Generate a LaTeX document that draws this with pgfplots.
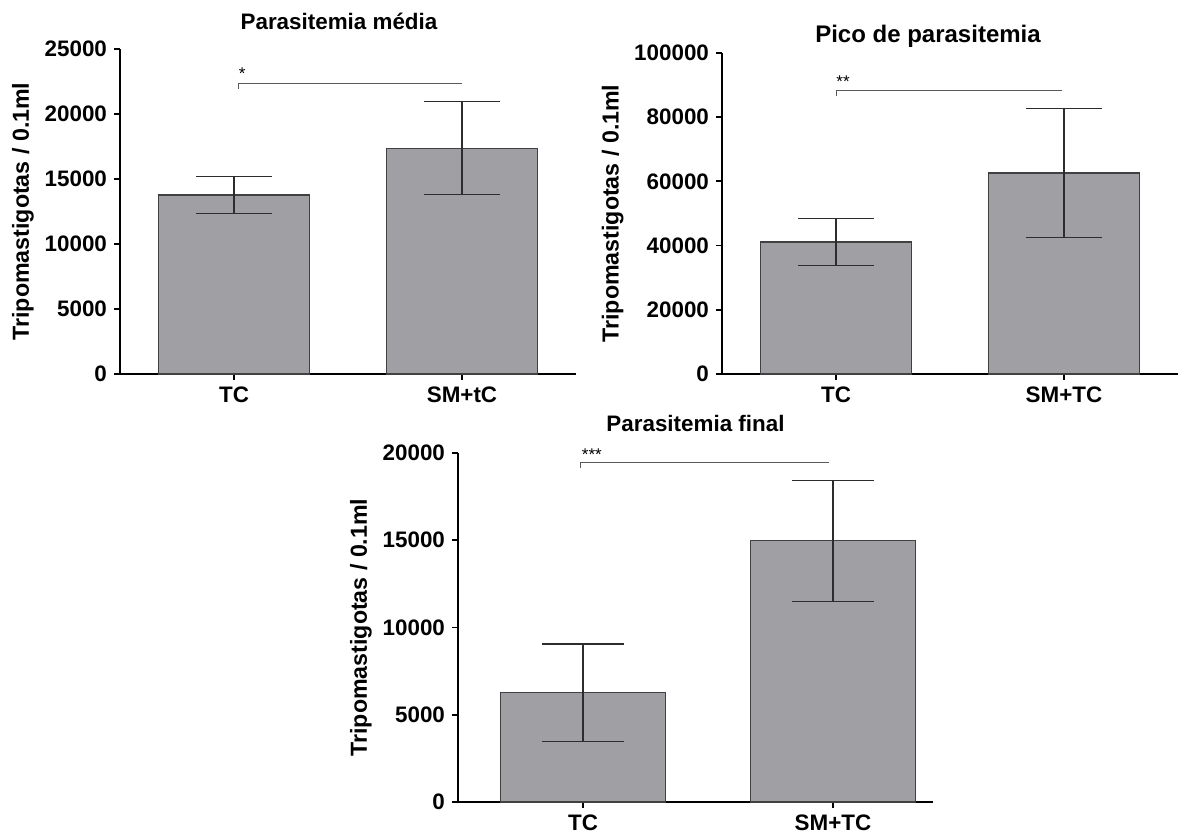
\documentclass[border=0pt]{standalone}
\usepackage{fontspec}
\setmainfont{Liberation Sans}
\usepackage{pgfplots}
\pgfplotsset{compat=1.18}
\definecolor{barfill}{RGB}{160,159,164}
\definecolor{baredge}{RGB}{65,65,65}
\definecolor{errc}{RGB}{45,45,45}
\definecolor{brk}{RGB}{90,90,90}
\newcommand{\lblfont}{\fontsize{11.2}{13}\selectfont\bfseries}
\pgfplotsset{
  panel/.style={
    scale only axis,
    anchor=south west,
    axis lines=left,
    axis line style={-, line width=1pt, black},
    xtick={0,1},
    tick align=outside,
    major tick length=3pt,
    tick style={line width=0.9pt, black},
    xmin=-0.5, xmax=1.5, ymin=0,
    scaled y ticks=false,
    yticklabel={\pgfmathprintnumber[fixed,precision=0,1000 sep={},assume math mode=true]{\tick}},
    ticklabel style={font=\lblfont},
    ylabel={Tripomastigotas / 0.1ml},
    ylabel style={font=\fontsize{11.6}{13}\selectfont\bfseries, yshift=-1.5pt},
    title style={font=\lblfont, at={(0.5,1)}, anchor=base},
    clip=false,
  },
  barplot/.style={
    ybar, bar width=0.66, fill=barfill, draw=baredge, line width=0.6pt,
    error bars/.cd, y dir=both, y explicit,
    error bar style={line width=0.6pt, errc},
    error mark options={line width=0.6pt, errc, mark size=#1, rotate=90},
  },
}
\begin{document}
\begin{tikzpicture}
\useasboundingbox (0,0) rectangle (589.5pt,417.5pt);
% Panel 1
\begin{axis}[panel, at={(60pt,230.5pt)}, width=228pt, height=162.5pt,
  ymax=25000, ytick={0,5000,10000,15000,20000,25000},
  xticklabels={TC, SM+tC},
  title={Parasitemia média}, title style={yshift=3.9pt, xshift=-4.5pt}]
\addplot[barplot=18.8pt] coordinates {(0,13770) +- (0,1435) (1,17375) +- (0,3580)};
\draw[line width=0.5pt, brk] (axis cs:0.018,21930) -- (axis cs:0.018,22365) -- (axis cs:1.0,22365);
\node[font=\fontsize{8.5}{9}\selectfont, anchor=base west, inner sep=0pt] at (axis cs:0.02,22615) {*};
\end{axis}
% Panel 2
\begin{axis}[panel, at={(361pt,230.5pt)}, width=228pt, height=160.5pt,
  ymax=100000, ytick={0,20000,40000,60000,80000,100000},
  xticklabels={TC, SM+TC},
  title={Pico de parasitemia}, title style={font=\fontsize{12}{14}\selectfont\bfseries, yshift=-1pt, xshift=-11pt}]
\addplot[barplot=18.8pt] coordinates {(0,41100) +- (0,7330) (1,62600) +- (0,20200)};
\draw[line width=0.5pt, brk] (axis cs:0,86700) -- (axis cs:0,88380) -- (axis cs:0.993,88380);
\node[font=\fontsize{8.5}{9}\selectfont, anchor=base west, inner sep=0pt] at (axis cs:0.0,89100) {**};
\end{axis}
% Panel 3
\begin{axis}[panel, at={(229pt,16.5pt)}, width=237.5pt, height=174.5pt,
  xmax=1.4,
  ymax=20000, ytick={0,5000,10000,15000,20000},
  xticklabels={TC, SM+TC},
  title={Parasitemia final}, title style={yshift=4.7pt}]
\addplot[barplot=20.6pt] coordinates {(0,6267) +- (0,2790) (1,14971) +- (0,3467)};
\draw[line width=0.5pt, brk] (axis cs:-0.01,19123) -- (axis cs:-0.01,19467) -- (axis cs:0.985,19467);
\node[font=\fontsize{8.5}{9}\selectfont, anchor=base west, inner sep=0pt] at (axis cs:-0.006,19570) {***};
\end{axis}
\end{tikzpicture}
\end{document}
